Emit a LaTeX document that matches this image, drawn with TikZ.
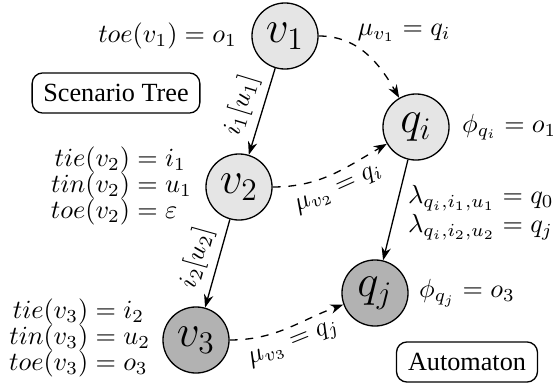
\documentclass[tikz,border=0pt]{standalone}
\usepackage{amsmath}
\usepackage{fontspec}
\setmainfont{Liberation Serif}
\usetikzlibrary{arrows.meta}
\begin{document}
\begin{tikzpicture}[x=0.3816pt,y=-0.3816pt,
  st/.style={circle,draw,line width=0.5pt,minimum size=25.2pt,inner sep=0pt,font=\LARGE},
  light/.style={fill=gray!20},
  dark/.style={fill=gray!60},
  lbl/.style={inner sep=1pt},
  elbl/.style={inner sep=3pt},
  boxlbl/.style={draw,rounded corners=4pt,font=\rmfamily,inner sep=0pt,minimum height=15.3pt,line width=0.5pt},
  arr/.style={-{Stealth[length=5pt,width=3.6pt]},line width=0.5pt},
  darr/.style={arr,dashed}]
\useasboundingbox (0,0) rectangle (553,388);
% states
\node[st,light] (v1) at (285,36) {$v_1$};
\node[st,light] (v2) at (239,187) {$v_2$};
\node[st,dark]  (v3) at (196,340) {$v_3$};
\node[st,light] (qi) at (416,127) {$q_i$};
\node[st,dark]  (qj) at (375,293) {$q_j$};
% boxes
\node[boxlbl,minimum width=64pt] (st) at (116,93) {Scenario Tree};
\node[boxlbl,minimum width=53.8pt] (au) at (467,362) {Automaton};
% annotations
\node[lbl,anchor=east] (a1) at (240,36) {$toe(v_1) = o_1$};
\node[lbl,anchor=east] (a2) at (195,186) {$\begin{aligned}tie(v_2) &= i_1\\[-5pt] tin(v_2) &= u_1\\[-5pt] toe(v_2) &= \varepsilon\end{aligned}$};
\node[lbl,anchor=west] (a3) at (6,338) {$\begin{aligned}tie(v_3) &= i_2\\[-5pt] tin(v_3) &= u_2\\[-5pt] toe(v_3) &= o_3\end{aligned}$};
\node[lbl,anchor=west] (a4) at (459,127) {$\phi_{q_i} = o_1$};
\node[lbl,anchor=west] (a5) at (416,293) {$\phi_{q_j} = o_3$};
\node[lbl,anchor=west] (a6) at (405,212) {$\begin{aligned}\lambda_{q_i,i_1,u_1} &= q_0\\[-4pt] \lambda_{q_i,i_2,u_2} &= q_j\end{aligned}$};
% edges
\draw[arr] (v1) -- node[elbl,midway,above,sloped] (e1) {$i_1[u_1]$} (v2);
\draw[arr] (v2) -- node[elbl,midway,above,sloped] (e2) {$i_2[u_2]$} (v3);
\draw[arr] (qi) -- (qj);
\draw[darr] (v1) to[out=0,in=120] node[lbl,pos=0.35,anchor=south west] (m1) {$\mu_{v_1} = q_i$} (qi);
\draw[darr] (v2) to[out=0,in=210] node[elbl,pos=0.5,below,sloped] (m2) {$\mu_{v_2} = q_i$} (qi);
\draw[darr] (v3) to[out=0,in=200] node[elbl,pos=0.5,below,sloped] (m3) {$\mu_{v_3} = q_j$} (qj);
\end{tikzpicture}
\end{document}
